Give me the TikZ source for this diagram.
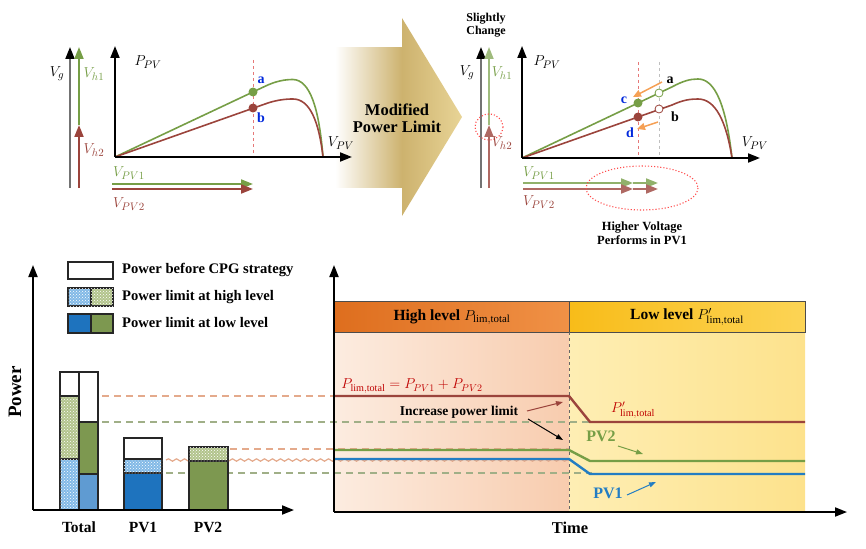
\documentclass[tikz,border=0pt]{standalone}
\usepackage{fontspec}
\setmainfont{Liberation Serif}
\usetikzlibrary{arrows.meta,patterns,decorations.pathmorphing}
\definecolor{cgreen}{RGB}{118,158,70}
\definecolor{cred}{RGB}{155,68,60}
\definecolor{cblue}{RGB}{35,125,195}
\definecolor{lblue}{RGB}{0,40,220}
\definecolor{bsolid}{RGB}{30,115,190}
\definecolor{blight}{RGB}{95,155,210}
\definecolor{bdot}{RGB}{130,185,230}
\definecolor{gdot}{RGB}{178,196,140}
\definecolor{gsolid}{RGB}{125,152,80}
\definecolor{peach}{RGB}{228,170,140}
\definecolor{gdash}{RGB}{160,175,135}
\definecolor{corange}{RGB}{245,160,85}
\definecolor{hor1}{RGB}{222,110,30}
\definecolor{hor2}{RGB}{240,145,70}
\definecolor{hgo1}{RGB}{248,188,25}
\definecolor{hgo2}{RGB}{252,212,85}
\definecolor{tan1}{RGB}{205,178,110}
\definecolor{tan2}{RGB}{232,212,150}
\definecolor{rdash}{RGB}{230,120,120}
\begin{document}
\begin{tikzpicture}[x=1pt,y=-1pt,
  tipk/.style={-{Triangle[length=12pt,width=9pt]}},
  axisk/.style={line width=1.8pt,black,tipk},
  colln/.style={line width=1.8pt},
  mlab/.style={font=\fontsize{15}{17}\selectfont,inner sep=0pt},
  blab/.style={font=\fontsize{14}{16}\selectfont\bfseries,inner sep=0pt},
  leglab/.style={font=\fontsize{14.6}{16}\selectfont\bfseries,inner sep=0pt,anchor=west},
  slab/.style={font=\fontsize{12}{13}\selectfont\bfseries,inner sep=0pt},
  barbox/.style={draw=black!85,line width=1.1pt},
  dotov/.style={postaction={pattern=crosshatch dots,pattern color=white}},
  hline/.style={dashed,dash pattern=on 7pt off 5pt,line width=1.3pt},
  thick2/.style={line width=2.4pt}
]
\useasboundingbox (0,0) rectangle (866,548);

% ================= CENTER ARROW =================
\shade[left color=white,right color=tan1] (335,48) rectangle (402,187);
\shade[left color=tan1,right color=tan2] (402,18) -- (462,117) -- (402,216) -- cycle;
\node[font=\fontsize{16.5}{18}\selectfont\bfseries,align=center,inner sep=0pt] (lmod) at (397,118) {Modified\\[-1pt]Power Limit};

% ================= TOP LEFT =================
\coordinate (vgb) at (70,188); \coordinate (vgt) at (70,47);
\draw[line width=2pt,black!55,-{Triangle[length=12pt,width=9pt,color=black]}] (vgb) -- (vgt);
\coordinate (h1b) at (79,125); \coordinate (h1t) at (79,47);
\coordinate (h2b) at (79,188);
\draw[colln,cgreen,tipk] (h1b) -- (h1t);
\draw[colln,cred,tipk] (h2b) -- (h1b);
\node[mlab] (lvg) at (57,74) {$V_g$};
\node[mlab,cgreen] (lvh1) at (94,74) {$V_{h1}$};
\node[mlab,cred] (lvh2) at (94,150) {$V_{h2}$};

\coordinate (o1) at (115,157);
\coordinate (py1) at (115,46);
\coordinate (px1) at (352,157);
\draw[rdash,dashed,line width=1pt] (253,60) -- (253,157);
\draw[cgreen,line width=1.6pt] (o1) -- (265,86.3) .. controls (276,81) and (285,79.5) .. (293,79.5) .. controls (310,80) and (319,108) .. (323,157);
\draw[cred,line width=1.6pt] (o1) -- (265,104) .. controls (276,100) and (285,99) .. (293,99) .. controls (310,99) and (319,122) .. (323,157);
\draw[axisk] (o1) -- (py1);
\draw[axisk] (o1) -- (px1);
\node[mlab] (lpp1) at (148,62) {$P_{PV}$};
\node[mlab] (lvp1) at (341,143) {$V_{PV}$};
\fill[cgreen] (253,92) circle (4.5);
\fill[cred] (253,108) circle (4.5);
\node[blab,lblue] (la1) at (261,80) {a};
\node[blab,lblue] (lb1) at (261,118) {b};

\draw[colln,cgreen,tipk] (112,184) -- (253,184);
\draw[colln,cred,tipk] (112,189) -- (253,189);
\node[mlab,cgreen] (lv11) at (129,173) {$V_{PV1}$};
\node[mlab,cred] (lv21) at (129,204) {$V_{PV2}$};

% ================= TOP RIGHT =================
\node[slab,align=center] (lsl) at (486,25) {Slightly\\Change};
\coordinate (vgb2) at (481,188); \coordinate (vgt2) at (481,47);
\draw[line width=2pt,black!55,-{Triangle[length=12pt,width=9pt,color=black]}] (vgb2) -- (vgt2);
\coordinate (h1b2) at (489,125); \coordinate (h1t2) at (489,47);
\coordinate (h2b2) at (489,188);
\draw[colln,cgreen!70,tipk] (h1b2) -- (h1t2);
\draw[colln,cred!80,tipk] (h2b2) -- (h1b2);
\draw[red!70,dotted,line width=1.1pt] (489,127) ellipse (14 and 13);
\node[mlab] (lvg2) at (467,73) {$V_g$};
\node[mlab,cgreen] (lvh12) at (502,73) {$V_{h1}$};
\node[mlab,cred] (lvh22) at (502,143) {$V_{h2}$};

\coordinate (o2) at (522,158);
\coordinate (py2) at (522,46);
\coordinate (px2) at (760,158);
\draw[rdash,dashed,line width=1pt] (638,62) -- (638,158);
\draw[black!25,dashed,line width=1pt] (659,62) -- (659,158);
\draw[cgreen,line width=1.6pt] (o2) -- (672,86.9) .. controls (683,81) and (690,79) .. (698,79) .. controls (715,79) and (726,105) .. (732,158);
\draw[cred,line width=1.6pt] (o2) -- (672,105) .. controls (683,100) and (690,99) .. (698,99) .. controls (715,99) and (726,120) .. (732,158);
\draw[axisk] (o2) -- (py2);
\draw[axisk] (o2) -- (px2);
\node[mlab] (lpp2) at (547,62) {$P_{PV}$};
\node[mlab] (lvp2) at (755,143) {$V_{PV}$};
\fill[cgreen] (638,103) circle (4.5);
\fill[cred] (638,117) circle (4.5);
\draw[cgreen,fill=white,line width=0.8pt] (659,93) circle (4);
\draw[cred,fill=white,line width=0.8pt] (659,109) circle (4);
\coordinate (oa1) at (662,82); \coordinate (oa2) at (633,97);
\coordinate (ob1) at (658,122); \coordinate (ob2) at (637,129);
\draw[corange,line width=1.5pt,-{Triangle[length=8pt,width=7pt]}] (oa1) -- (oa2);
\draw[corange,line width=1.5pt,-{Triangle[length=8pt,width=7pt]}] (ob1) -- (ob2);
\node[blab] (la2) at (670,80) {a};
\node[blab] (lb2) at (675,117) {b};
\node[blab,lblue] (lc2) at (624,100) {c};
\node[blab,lblue] (ld2) at (630,133) {d};

\coordinate (g0) at (523,183); \coordinate (g1) at (633,183); \coordinate (g2) at (658,183);
\coordinate (r0) at (523,189); \coordinate (r1) at (633,189); \coordinate (r2) at (658,189);
\draw[colln,cgreen!80,tipk] (g0) -- (g1);
\draw[colln,cgreen!80,tipk] (g1) -- (g2);
\draw[colln,cred!80,tipk] (r0) -- (r1);
\draw[colln,cred!80,tipk] (r1) -- (r2);
\node[mlab,cgreen] (lv12) at (539,173) {$V_{PV1}$};
\node[mlab,cred] (lv22) at (539,202) {$V_{PV2}$};
\draw[red!70,dotted,line width=1.1pt] (642,188) ellipse (56 and 22);
\node[font=\fontsize{12.5}{14}\selectfont\bfseries,align=center,inner sep=0pt] (lhv) at (642,233) {Higher Voltage\\Performs in PV1};

% ================= BOTTOM RIGHT BACKGROUND =================
\shade[left color={rgb,255:red,252;green,236;blue,224},right color={rgb,255:red,248;green,204;blue,174}] (334,332) rectangle (569,512);
\shade[left color={rgb,255:red,254;green,238;blue,180},right color={rgb,255:red,253;green,226;blue,140}] (569,332) rectangle (805,512);
\shade[left color=hor1,right color=hor2,draw=black!70,line width=1pt] (334,301) rectangle (569,332);
\shade[left color=hgo1,right color=hgo2,draw=black!70,line width=1pt] (569,301) rectangle (805,332);
\draw[black!60,dashed,line width=1pt] (569,332) -- (569,512);
\node[font=\fontsize{15.5}{17}\selectfont\bfseries,inner sep=0pt] (lhh) at (452,317) {High level $P_{\mathrm{lim,total}}$};
\node[font=\fontsize{15.5}{17}\selectfont\bfseries,inner sep=0pt] (lll) at (687,317) {Low level $P'_{\mathrm{lim,total}}$};

% ================= DASHED GUIDE LINES =================
\draw[hline,peach] (102,396) -- (569,396);
\draw[hline,gdash] (102,422) -- (592,422);
\draw[hline,peach] (230,449) -- (569,449);
\draw[peach,line width=1.2pt,decorate,decoration={snake,amplitude=1.2pt,segment length=8pt}] (166,460) -- (569,460);
\draw[hline,gdash] (166,473) -- (592,473);

% ================= BOTTOM LEFT BAR CHART =================
\draw[barbox,fill=white] (68,262) rectangle (113,279);
\draw[barbox,fill=bdot,dotov] (68,288) rectangle (91,306);
\draw[barbox,fill=gdot,dotov] (91,288) rectangle (113,306);
\draw[barbox,fill=bsolid] (68,314) rectangle (91,333);
\draw[barbox,fill=gsolid] (91,314) rectangle (113,333);
\node[leglab] (lg1) at (122,270) {Power before CPG strategy};
\node[leglab] (lg2) at (122,297) {Power limit at high level};
\node[leglab] (lg3) at (122,323) {Power limit at low level};

% Total left
\draw[barbox,fill=bdot,dotov] (60,459) rectangle (79,510);
\draw[barbox,fill=gdot,dotov] (60,396) rectangle (79,459);
\draw[barbox,fill=white] (60,372) rectangle (79,396);
% Total right
\draw[barbox,fill=blight] (79,474) rectangle (98,510);
\draw[barbox,fill=gsolid] (79,422) rectangle (98,474);
\draw[barbox,fill=white] (79,372) rectangle (98,422);
% PV1
\draw[barbox,fill=bsolid] (124,473) rectangle (162,510);
\draw[barbox,fill=bdot,dotov] (124,459) rectangle (162,473);
\draw[barbox,fill=white] (124,438) rectangle (162,459);
% PV2
\draw[barbox,fill=gsolid] (189,461) rectangle (228,510);
\draw[barbox,fill=gdot,dotov] (189,447) rectangle (228,461);

\coordinate (bo) at (33,510);
\draw[axisk] (bo) -- (33,265);
\draw[axisk] (bo) -- (294,510);
\node[font=\fontsize{19}{21}\selectfont\bfseries,rotate=90,inner sep=0pt] (lpow) at (15,392) {Power};
\node[font=\fontsize{15.5}{17}\selectfont\bfseries,inner sep=0pt] (ltot) at (79,527) {Total};
\node[font=\fontsize{15.5}{17}\selectfont\bfseries,inner sep=0pt] (lpv1) at (143,527) {PV1};
\node[font=\fontsize{15.5}{17}\selectfont\bfseries,inner sep=0pt] (lpv2) at (208,527) {PV2};

% ================= BOTTOM RIGHT LINES =================
\draw[thick2,cred] (334,396) -- (569,396) -- (590,422) -- (805,422);
\draw[thick2,cgreen] (334,450) -- (569,450) -- (590,461) -- (805,461);
\draw[thick2,cblue] (334,459) -- (569,459) -- (590,474) -- (805,474);

\coordinate (to) at (334,512);
\draw[axisk] (to) -- (334,265);
\draw[axisk] (to) -- (847,512);

\node[font=\fontsize{14.5}{16}\selectfont,text=red!75!black,inner sep=0pt] (lform) at (412,386) {$P_{\mathrm{lim,total}}=P_{PV1}+P_{PV2}$};
\node[font=\fontsize{13.5}{15}\selectfont\bfseries,inner sep=0pt] (linc) at (459,412) {Increase power limit};
\coordinate (ia1) at (527,411); \coordinate (ia2) at (563,402);
\coordinate (ib1) at (528,419); \coordinate (ib2) at (563,440);
\draw[cred,line width=1pt,-{Triangle[length=7pt,width=5pt]}] (ia1) -- (ia2);
\draw[black,line width=1pt,-{Triangle[length=7pt,width=5pt]}] (ib1) -- (ib2);
\node[font=\fontsize{14.5}{16}\selectfont,text=red!75!black,inner sep=0pt] (lplp) at (633,410) {$P'_{\mathrm{lim,total}}$};
\node[font=\fontsize{16}{18}\selectfont\bfseries,text=cgreen,inner sep=0pt] (lpv2r) at (601,436) {PV2};
\node[font=\fontsize{16}{18}\selectfont\bfseries,text=cblue,inner sep=0pt] (lpv1r) at (608,493) {PV1};
\coordinate (pa1) at (618,446); \coordinate (pa2) at (643,454);
\coordinate (pb1) at (627,495); \coordinate (pb2) at (656,482);
\draw[cgreen,line width=1pt,-{Triangle[length=7pt,width=5pt]}] (pa1) -- (pa2);
\draw[cblue,line width=1pt,-{Triangle[length=7pt,width=5pt]}] (pb1) -- (pb2);
\node[font=\fontsize{16.5}{18}\selectfont\bfseries,inner sep=0pt] (ltime) at (570,528) {Time};
\end{tikzpicture}
\end{document}
